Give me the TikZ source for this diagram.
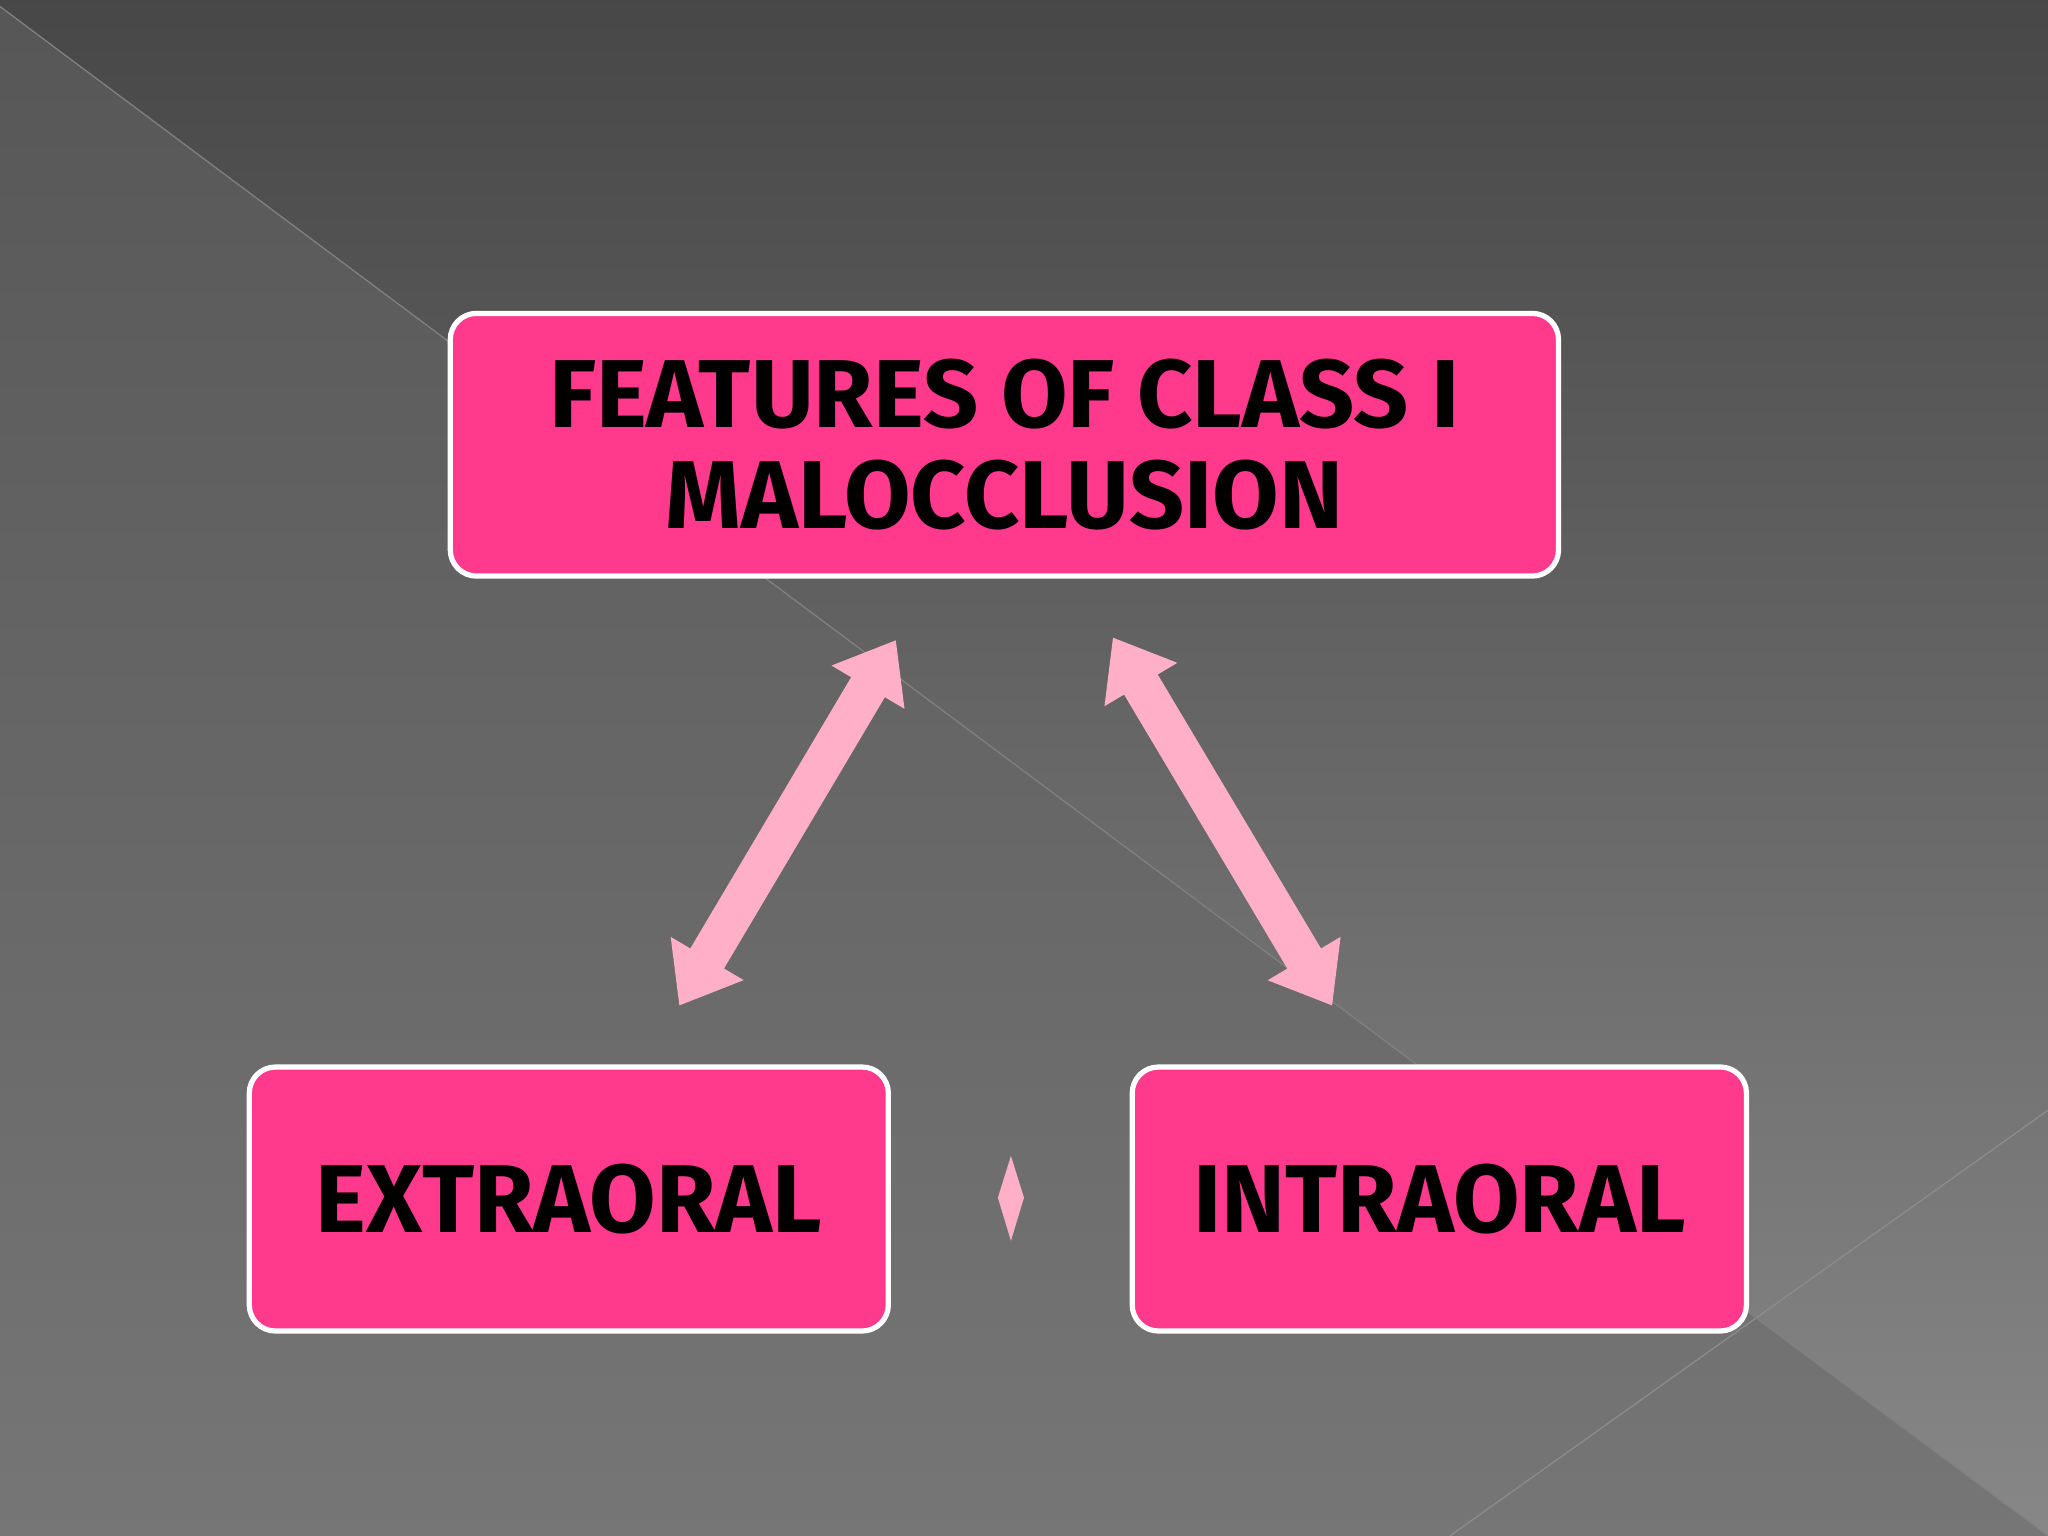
\documentclass[tikz,border=0pt]{standalone}
\usepackage{fontspec}
\setmainfont{Fira Sans}
\usetikzlibrary{arrows.meta}
\definecolor{boxpink}{HTML}{FF3A8C}
\definecolor{arrpink}{HTML}{FFB0C8}
\tikzset{
  box/.style={draw=white,line width=0.04cm,fill=boxpink,rounded corners=0.2cm,inner sep=0,align=center,font=\fontsize{21}{22}\selectfont\bfseries},
  dbl/.style={draw=arrpink,line width=0.3cm,{Triangle[width=0.62cm,length=0.42cm]}-{Triangle[width=0.62cm,length=0.42cm]}}
}
\begin{document}
\begin{tikzpicture}[x=0.01cm,y=-0.01cm]
\useasboundingbox (0,0) rectangle (1568,1176);
\shade[top color=black!72,bottom color=black!47] (0,0) rectangle (1568,1176);
\fill[black!60,opacity=0.5] (0,5) -- (1568,1176) -- (0,1176) -- cycle;
\draw[black!50,line width=0.01cm] (0,5) -- (1568,1176);
\draw[black!45,line width=0.01cm] (1110,1176) -- (1568,850);
\node[box,minimum width=8.48cm,minimum height=2.01cm] (top) at (769,340.5) {FEATURES OF CLASS I\\MALOCCLUSION};
\node[box,minimum width=4.89cm,minimum height=2.02cm] (ext) at (435.5,918) {EXTRAORAL};
\node[box,minimum width=4.70cm,minimum height=2.02cm] (int) at (1102,918) {INTRAORAL};
\coordinate (a1) at (520,770);
\coordinate (a2) at (686,490);
\coordinate (b1) at (852,488);
\coordinate (b2) at (1020,770);
\draw[dbl] (a1) -- (a2);
\draw[dbl] (b1) -- (b2);
\fill[arrpink] (774,885) -- (784,917) -- (774,950) -- (764,917) -- cycle;
\end{tikzpicture}
\end{document}
